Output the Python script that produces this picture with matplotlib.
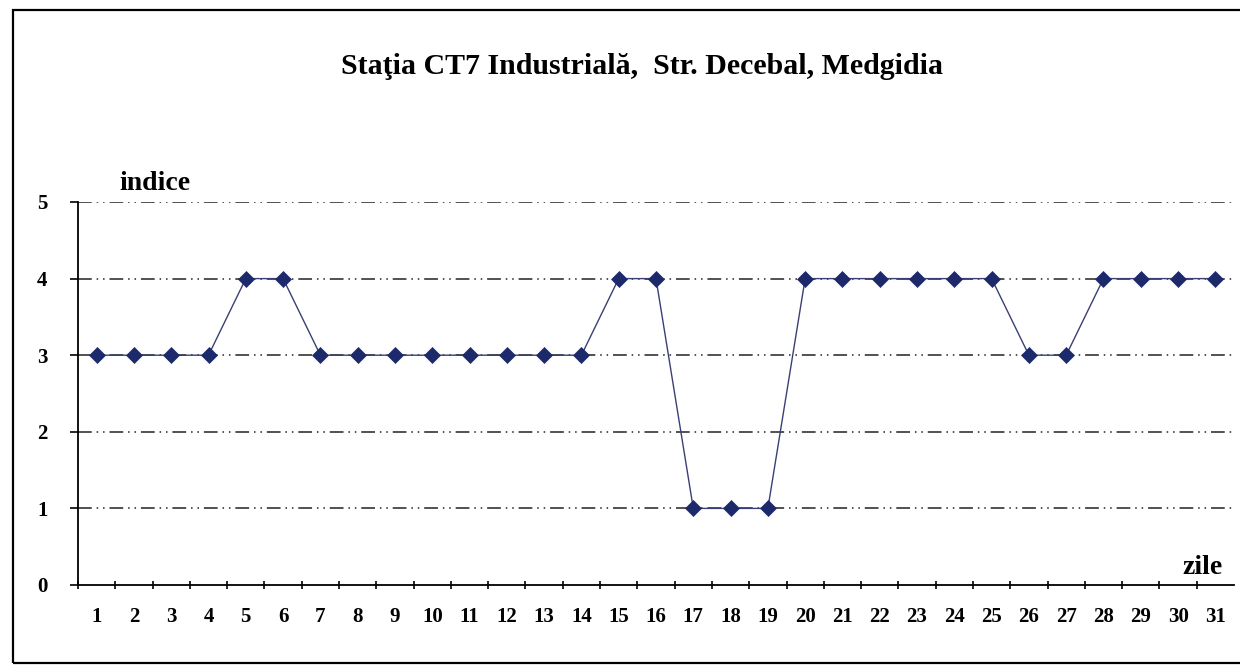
import matplotlib
matplotlib.use('Agg')
import matplotlib.pyplot as plt
from matplotlib.patches import Rectangle

# daily index values, Statia CT7 Industriala
zile = list(range(1, 32))
indice = [3, 3, 3, 3, 4, 4, 3, 3, 3, 3, 3, 3, 3, 3, 4, 4, 1, 1, 1, 4, 4, 4, 4, 4, 4, 3, 3, 4, 4, 4, 4]
y_ticks = [0, 1, 2, 3, 4, 5]

plt.rcParams['font.family'] = ['Liberation Serif', 'DejaVu Serif']
plt.rcParams['font.weight'] = 'bold'

fig = plt.figure(figsize=(12.4, 6.65), dpi=100)
ax = fig.add_axes([78 / 1240, 1 - 585 / 665, 1156 / 1240, 383 / 665])

# outer frame of the chart area
fig.patches.append(Rectangle((13 / 1240, 2 / 665), 1.05, 653 / 665, transform=fig.transFigure,
                             fill=False, edgecolor='black', linewidth=1.6))

# dash-dot-dot gridlines
for y in y_ticks[1:]:
    ax.axhline(y, color='#222222', linewidth=1.1, linestyle=(0, (9, 3.2, 1, 3.2, 1, 3.2)), zorder=1)

ax.plot(zile, indice, color='#3a3f75', linewidth=1.0, marker='D', markersize=8.3,
        markerfacecolor='#1c2a6b', markeredgecolor='#1c2a6b', markeredgewidth=0.5, zorder=3)

ax.set_xlim(0.5, 31.5)
ax.set_ylim(0, 5)
for s in ['top', 'right']:
    ax.spines[s].set_visible(False)
ax.spines['left'].set_linewidth(1.3)
ax.spines['bottom'].set_linewidth(1.3)

ax.set_xticks(zile)
ax.set_xticklabels([str(z) for z in zile], fontsize=15, fontweight='bold')
ax.set_xticks([z + 0.5 for z in range(0, 31)], minor=True)
ax.tick_params(axis='x', which='major', length=0, pad=16)
ax.tick_params(axis='x', which='minor', length=6, width=1.2, direction='inout')
ax.set_yticks(y_ticks)
ax.set_yticklabels([str(v) for v in y_ticks], fontsize=15, fontweight='bold')
ax.tick_params(axis='y', length=6, width=1.2, direction='out', pad=16)

fig.text(642 / 1240, 1 - 66 / 665, 'Staţia CT7 Industrială,  Str. Decebal, Medgidia',
         ha='center', va='center', fontsize=21.5, fontweight='bold')
fig.text(155 / 1240, 1 - 183 / 665, 'indice', ha='center', va='center', fontsize=20, fontweight='bold')
fig.text(1203 / 1240, 1 - 568 / 665, 'zile', ha='center', va='center', fontsize=20, fontweight='bold')

fig.savefig('out.png', dpi=100, facecolor='white')
